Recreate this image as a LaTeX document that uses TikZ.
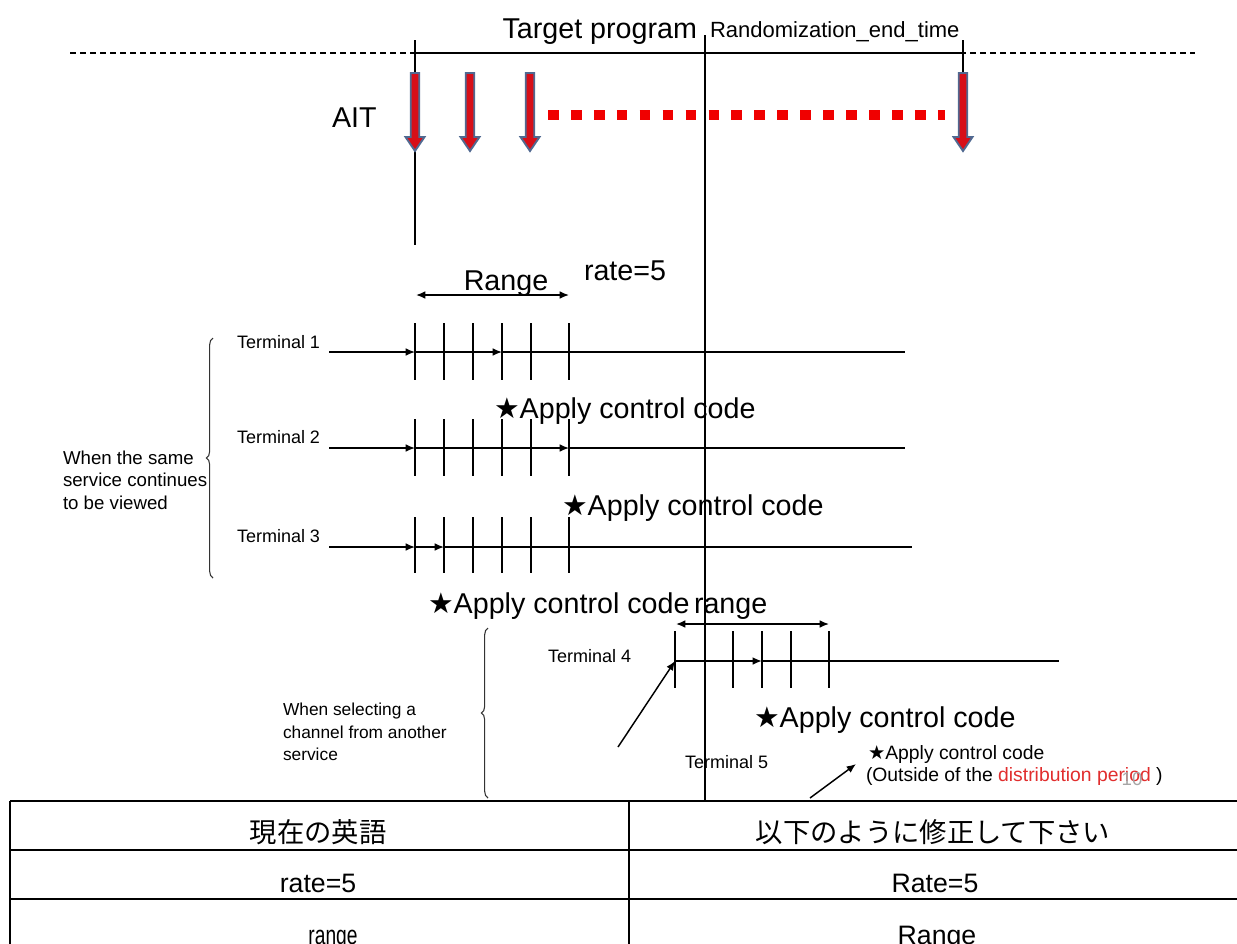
\documentclass[tikz,border=0pt]{standalone}
\usepackage{fontspec}
\setmainfont{Liberation Sans}
\newfontfamily\symfont{DejaVu Sans}
\newfontfamily\jpfont{Noto Sans CJK JP}
\usetikzlibrary{arrows.meta,decorations.pathreplacing}
\definecolor{aitred}{RGB}{215,15,25}
\definecolor{aitblue}{RGB}{80,105,145}
\definecolor{dotred}{RGB}{240,0,0}
\definecolor{txtred}{RGB}{225,45,45}
\newcommand{\mystar}{{\symfont ★}}
\begin{document}
\begin{tikzpicture}[x=0.75pt,y=-0.75pt,
  every node/.style={inner sep=0pt,outer sep=0pt},
  big/.style={font=\fontsize{21.5}{25}\selectfont},
  mid/.style={font=\fontsize{16.5}{20}\selectfont},
  lbl/.style={font=\fontsize{13.5}{16}\selectfont},
  note/.style={font=\fontsize{13}{16.8}\selectfont,align=left},
  small/.style={font=\fontsize{14.5}{17}\selectfont},
  tab/.style={font=\fontsize{20}{24}\selectfont},
  jp/.style={font=\jpfont\fontsize{20.5}{24}\selectfont},
  tl/.style={line width=1.1pt},
  tick/.style={line width=1.1pt},
  tip/.style={-{Latex[length=7pt,width=5.8pt]}},
  dtip/.style={{Latex[length=7pt,width=5.8pt]}-{Latex[length=7pt,width=5.8pt]}},
  ait/.style={fill=aitred,draw=aitblue,line width=1.4pt,line join=miter},
  brc/.style={decorate,decoration={brace,amplitude=5pt},line width=0.8pt,draw=black!80},
  tabline/.style={line width=1.6pt}
]
\useasboundingbox (0,0) rectangle (1237,943);
\fill[white] (0,0) rectangle (1237,943);

% ---- timeline ----
\coordinate (dl) at (70,53);
\coordinate (dr) at (1195,53);
\coordinate (ps) at (415,53);
\coordinate (pe) at (963,53);
\draw[line width=0.8pt,dash pattern=on 4.5pt off 3pt] (dl) -- (dr);
\draw[line width=2.2pt] (ps) -- (pe);
\coordinate (v1t) at (415,40);
\coordinate (v1b) at (415,245);
\draw[line width=1pt] (v1t) -- (v1b);
\coordinate (v2t) at (963,40);
\coordinate (v2b) at (963,140);
\draw[line width=1pt] (v2t) -- (v2b);
\coordinate (vmt) at (705,35);
\coordinate (vmb) at (705,800);
\draw[line width=1pt] (vmt) -- (vmb);

\node[big,anchor=base east] (tp) at (697,38) {Target program};
\node[mid,anchor=base west] (ret) at (710,37) {Randomization\_end\_time};

% ---- AIT arrows ----
\node[big,anchor=base west] (ait) at (332,127) {AIT};
\foreach \x in {415,470,530,963}{
  \draw[ait] ({\x-4.2},73) -- ({\x+4.2},73) -- ({\x+4.2},137) -- ({\x+9.5},137)
     -- (\x,151) -- ({\x-9.5},137) -- ({\x-4.2},137) -- cycle;
}
\coordinate (ds) at (548,115);
\coordinate (de) at (945,115);
\draw[dotred,line width=7.5pt,dash pattern=on 8pt off 9.2pt] (ds) -- (de);

% ---- Range / rate ----
\node[big,anchor=base] (rng) at (506,290) {Range};
\node[big,anchor=base west] (rate) at (584,280) {rate=5};
\coordinate (ra) at (416,295);
\coordinate (rb) at (569,295);
\draw[line width=1.1pt,dtip] (ra) -- (rb);

% ---- Terminal 1 ----
\node[lbl,anchor=base west] (T1) at (237,348.5) {Terminal 1};
\coordinate (t1s) at (329,352);
\coordinate (t1a) at (415,352);
\coordinate (t1b) at (502,352);
\coordinate (t1e) at (905,352);
\draw[tl,tip] (t1s) -- (t1a);
\draw[tl,tip] (t1a) -- (t1b);
\draw[tl] (t1b) -- (t1e);
\foreach \x in {415,444,473,502,531,569} \draw[tick] (\x,323) -- (\x,380);

\node[big,anchor=base west] (ac1) at (494,418) {\mystar Apply control code};

% ---- Terminal 2 ----
\node[lbl,anchor=base west] (T2) at (237,443.5) {Terminal 2};
\coordinate (t2s) at (329,448);
\coordinate (t2a) at (415,448);
\coordinate (t2b) at (569,448);
\coordinate (t2e) at (905,448);
\draw[tl,tip] (t2s) -- (t2a);
\draw[tl,tip] (t2a) -- (t2b);
\draw[tl] (t2b) -- (t2e);
\foreach \x in {415,444,473,502,531,569} \draw[tick] (\x,419) -- (\x,476);

\node[big,anchor=base west] (ac2) at (562,515) {\mystar Apply control code};

% ---- Terminal 3 ----
\node[lbl,anchor=base west] (T3) at (237,542.5) {Terminal 3};
\coordinate (t3s) at (329,547);
\coordinate (t3a) at (415,547);
\coordinate (t3b) at (444,547);
\coordinate (t3e) at (912,547);
\draw[tl,tip] (t3s) -- (t3a);
\draw[tl,tip] (t3a) -- (t3b);
\draw[tl] (t3b) -- (t3e);
\foreach \x in {415,444,473,502,531,569} \draw[tick] (\x,517) -- (\x,573);

\node[big,anchor=base west] (ac3) at (428,613) {\mystar Apply control code};
\node[big,anchor=base west] (rng2) at (694,613) {range};

% ---- brace 1 ----
\coordinate (b1b) at (213,578);
\coordinate (b1t) at (213,338);
\draw[brc] (b1b) -- (b1t);
\node[note,font=\fontsize{14}{17}\selectfont,anchor=west] (n1) at (63,480) {When the same\\service continues\\to be viewed};

% ---- Terminal 4 ----
\node[lbl,anchor=base west] (T4) at (548,662.5) {Terminal 4};
\coordinate (t4s) at (675,661);
\coordinate (t4a) at (762,661);
\coordinate (t4e) at (1059,661);
\draw[line width=1.9pt,tip] (t4s) -- (t4a);
\draw[tl] (t4a) -- (t4e);
\foreach \x in {675,733,762,791,829} \draw[tick] (\x,631) -- (\x,688);
\coordinate (r2a) at (676,624);
\coordinate (r2b) at (829,624);
\draw[line width=1.1pt,dtip] (r2a) -- (r2b);
\coordinate (d1s) at (618,747);
\draw[line width=1.1pt,tip] (d1s) -- (t4s);

\node[big,anchor=base west] (ac4) at (754,727) {\mystar Apply control code};

% ---- Terminal 5 ----
\node[lbl,anchor=base west] (T5) at (685,768.5) {Terminal 5};
\node[small,anchor=base west] (ac5) at (868,759) {\mystar Apply control code};
\node[small,anchor=base west] (out) at (866,781) {(Outside of the \textcolor{txtred}{distribution period} )};
\node[font=\fontsize{14}{16}\selectfont,text=black!35] (pg) at (1132,779) {10};
\coordinate (d2s) at (810,798);
\coordinate (d2e) at (856,764);
\draw[line width=1.1pt,tip] (d2s) -- (d2e);

% ---- brace 2 ----
\coordinate (b2b) at (488,798);
\coordinate (b2t) at (488,628);
\draw[brc] (b2b) -- (b2t);
\node[note,anchor=west] (n2) at (283,732) {When selecting a\\channel from another\\service};

% ---- table ----
\draw[line width=2.2pt] (10,801) -- (1237,801);
\draw[tabline] (10,850) -- (1237,850);
\draw[tabline] (10,899) -- (1237,899);
\draw[tabline] (10,801) -- (10,950);
\draw[tabline] (629,801) -- (629,950);
\node[jp,anchor=base] (h1) at (318,842) {現在の英語};
\node[jp,anchor=base] (h2) at (933,842) {以下のように修正して下さい};
\node[tab,anchor=base] (c11) at (318,892) {rate=5};
\node[tab,anchor=base] (c12) at (935,892) {Rate=5};
\node[tab,anchor=base,xscale=0.72] (c21) at (333,944) {range};
\node[tab,anchor=base] (c22) at (937,944) {Range};
\end{tikzpicture}
\end{document}
